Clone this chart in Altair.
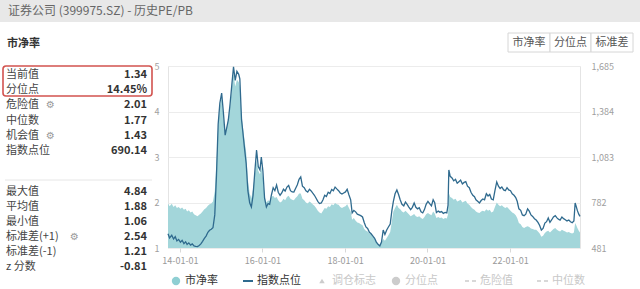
import altair as alt
import pandas as pd

title_text = "证券公司 (399975.SZ) - 历史PE/PB"
section_title = "市净率"
buttons = ["市净率", "分位点", "标准差"]

stat_labels = ["当前值", "分位点", "危险值", "中位数", "机会值", "指数点位"]
stat_values = ["1.34", "14.45%", "2.01", "1.77", "1.43", "690.14"]
stat_icons = [False, False, True, False, True, False]
stat2_labels = ["最大值", "平均值", "最小值", "标准差(+1)", "标准差(-1)", "z 分数"]
stat2_values = ["4.84", "1.88", "1.06", "2.54", "1.21", "-0.81"]
stat2_icons = [False, False, False, True, False, False]

legend_labels = ["市净率", "指数点位", "调仓标志", "分位点", "危险值", "中位数"]

left_ticks = [1, 2, 3, 4, 5]
right_ticks = [481, 782, 1083, 1384, 1685]
x_tick_years = [2014, 2016, 2018, 2020, 2022]

dates = [
    "2013-09-17", "2013-10-01", "2013-10-20", "2013-11-05", "2013-11-20", "2013-12-05", "2013-12-20",
    "2014-01-05", "2014-01-20", "2014-02-05", "2014-02-20", "2014-03-05", "2014-03-20", "2014-04-05",
    "2014-04-20", "2014-05-05", "2014-05-20", "2014-06-05", "2014-06-20", "2014-07-05", "2014-07-20",
    "2014-08-05", "2014-08-20", "2014-09-05", "2014-09-20", "2014-10-05", "2014-10-20", "2014-11-05",
    "2014-11-20", "2014-12-05", "2014-12-20", "2015-01-05", "2015-01-20", "2015-02-05", "2015-02-20",
    "2015-03-05", "2015-03-20", "2015-04-05", "2015-04-20", "2015-05-05", "2015-05-20", "2015-06-05",
    "2015-06-15", "2015-06-30", "2015-07-10", "2015-07-25", "2015-08-10", "2015-08-25", "2015-09-10",
    "2015-09-25", "2015-10-10", "2015-10-25", "2015-11-10", "2015-11-25", "2015-12-10", "2015-12-22",
    "2016-01-05", "2016-01-20", "2016-02-05", "2016-02-20", "2016-03-05", "2016-03-20", "2016-04-05",
    "2016-04-20", "2016-05-05", "2016-05-20", "2016-06-05", "2016-06-20", "2016-07-05", "2016-07-20",
    "2016-08-05", "2016-08-20", "2016-09-05", "2016-09-20", "2016-10-05", "2016-10-20", "2016-11-05",
    "2016-11-20", "2016-12-05", "2016-12-20", "2017-01-05", "2017-01-20", "2017-02-05", "2017-02-20",
    "2017-03-05", "2017-03-20", "2017-04-05", "2017-04-20", "2017-05-05", "2017-05-20", "2017-06-05",
    "2017-06-20", "2017-07-05", "2017-07-20", "2017-08-05", "2017-08-20", "2017-09-05", "2017-09-20",
    "2017-10-05", "2017-10-20", "2017-11-05", "2017-11-20", "2017-12-05", "2017-12-20", "2018-01-05",
    "2018-01-20", "2018-02-05", "2018-02-20", "2018-03-05", "2018-03-20", "2018-04-05", "2018-04-20",
    "2018-05-05", "2018-05-20", "2018-06-05", "2018-06-20", "2018-07-05", "2018-07-20", "2018-08-05",
    "2018-08-20", "2018-09-05", "2018-09-20", "2018-10-05", "2018-10-20", "2018-11-05", "2018-11-20",
    "2018-12-05", "2018-12-20", "2019-01-05", "2019-01-20", "2019-02-05", "2019-02-20", "2019-03-05",
    "2019-03-20", "2019-04-05", "2019-04-20", "2019-05-05", "2019-05-20", "2019-06-05", "2019-06-20",
    "2019-07-05", "2019-07-20", "2019-08-05", "2019-08-20", "2019-09-05", "2019-09-20", "2019-10-05",
    "2019-10-20", "2019-11-05", "2019-11-20", "2019-12-05", "2019-12-20", "2020-01-05", "2020-01-20",
    "2020-02-05", "2020-02-20", "2020-03-05", "2020-03-20", "2020-04-05", "2020-04-20", "2020-05-05",
    "2020-05-20", "2020-06-05", "2020-06-20", "2020-07-01", "2020-07-08", "2020-07-20", "2020-08-05",
    "2020-08-20", "2020-09-05", "2020-09-20", "2020-10-05", "2020-10-20", "2020-11-05", "2020-11-20",
    "2020-12-05", "2020-12-20", "2021-01-05", "2021-01-20", "2021-02-05", "2021-02-20", "2021-03-05",
    "2021-03-20", "2021-04-05", "2021-04-20", "2021-05-05", "2021-05-20", "2021-06-05", "2021-06-20",
    "2021-07-05", "2021-07-20", "2021-08-05", "2021-08-20", "2021-09-05", "2021-09-20", "2021-10-05",
    "2021-10-20", "2021-11-05", "2021-11-20", "2021-12-05", "2021-12-20", "2022-01-05", "2022-01-20",
    "2022-02-05", "2022-02-20", "2022-03-05", "2022-03-20", "2022-04-05", "2022-04-20", "2022-05-05",
    "2022-05-20", "2022-06-05", "2022-06-20", "2022-07-05", "2022-07-20", "2022-08-05", "2022-08-20",
    "2022-09-05", "2022-09-20", "2022-10-05", "2022-10-20", "2022-11-05", "2022-11-20", "2022-12-05",
    "2022-12-20", "2023-01-05", "2023-01-20", "2023-02-05", "2023-02-20", "2023-03-05", "2023-03-20",
    "2023-04-05", "2023-04-20", "2023-05-05", "2023-05-20", "2023-06-05", "2023-06-20", "2023-07-05",
    "2023-07-20", "2023-07-31", "2023-08-10", "2023-08-20", "2023-09-01", "2023-09-12",
]

pb = [
    1.98, 1.92, 1.97, 1.90, 1.94, 1.88, 1.90,
    1.86, 1.89, 1.84, 1.86, 1.80, 1.83, 1.78,
    1.80, 1.74, 1.72, 1.70, 1.73, 1.76, 1.80,
    1.85, 1.88, 1.93, 1.96, 1.98, 2.02, 2.25,
    2.90, 3.70, 4.10, 4.30, 3.90, 3.50, 3.65,
    3.80, 4.10, 4.50, 4.84, 4.55, 4.70, 4.65,
    4.55, 3.90, 3.70, 3.40, 3.10, 2.50, 2.20,
    2.10, 2.30, 2.60, 2.93, 2.70, 2.62, 2.78,
    2.55, 2.15, 2.00, 2.05, 2.02, 2.12, 2.15,
    2.10, 2.12, 2.05, 2.00, 2.02, 2.08, 2.05,
    2.12, 2.15, 2.08, 2.06, 2.05, 2.10, 2.14,
    2.20, 2.20, 2.08, 2.05, 2.00, 1.98, 2.02,
    2.00, 1.96, 1.93, 1.88, 1.82, 1.78, 1.76,
    1.82, 1.88, 1.86, 1.92, 1.90, 1.96, 1.94,
    1.99, 1.96, 1.95, 1.90, 1.88, 1.90, 1.92,
    1.96, 1.88, 1.80, 1.62, 1.66, 1.60, 1.56,
    1.55, 1.52, 1.50, 1.42, 1.38, 1.36, 1.32,
    1.30, 1.25, 1.22, 1.15, 1.10, 1.06, 1.12,
    1.20, 1.16, 1.22, 1.28, 1.35, 1.60, 1.80,
    1.88, 1.95, 1.88, 1.85, 1.80, 1.78, 1.82,
    1.78, 1.74, 1.70, 1.72, 1.75, 1.70, 1.68,
    1.70, 1.66, 1.64, 1.68, 1.74, 1.77, 1.74,
    1.72, 1.80, 1.76, 1.66, 1.68, 1.66, 1.67,
    1.64, 1.66, 1.65, 1.74, 2.21, 2.12, 2.10,
    2.06, 2.08, 2.02, 2.04, 2.06, 2.00, 2.02,
    2.04, 1.98, 1.95, 1.90, 1.86, 1.84, 1.80,
    1.78, 1.77, 1.80, 1.82, 1.80, 1.85, 1.82,
    1.84, 1.78, 1.80, 1.90, 2.00, 1.95, 1.92,
    1.94, 1.90, 1.88, 1.90, 1.86, 1.82, 1.78,
    1.76, 1.72, 1.66, 1.55, 1.52, 1.46, 1.44,
    1.46, 1.48, 1.46, 1.43, 1.42, 1.40, 1.40,
    1.36, 1.32, 1.25, 1.27, 1.33, 1.36, 1.38,
    1.34, 1.38, 1.42, 1.44, 1.40, 1.38, 1.36,
    1.40, 1.38, 1.36, 1.34, 1.35, 1.33, 1.32,
    1.34, 1.55, 1.50, 1.44, 1.38, 1.34,
]

index_pts = [
    575, 548, 565, 540, 556, 528, 538,
    520, 532, 510, 522, 505, 515, 500,
    508, 495, 492, 490, 498, 508, 525,
    545, 560, 585, 598, 605, 615, 700,
    960, 1300, 1440, 1506, 1380, 1228, 1280,
    1328, 1430, 1560, 1680, 1590, 1650, 1630,
    1600, 1330, 1260, 1150, 1040, 860, 780,
    752, 830, 980, 1129, 1020, 997, 1083,
    990, 810, 752, 775, 770, 830, 880,
    860, 898, 850, 830, 845, 870, 858,
    884, 895, 860, 852, 851, 875, 900,
    935, 951, 890, 880, 860, 851, 870,
    860, 845, 830, 810, 790, 775, 779,
    800, 830, 822, 850, 842, 868, 860,
    884, 872, 860, 845, 838, 845, 852,
    870, 832, 800, 713, 730, 720, 705,
    700, 695, 686, 650, 620, 610, 585,
    575, 560, 545, 520, 505, 495, 520,
    600, 570, 600, 620, 640, 730, 790,
    840, 865, 835, 799, 770, 760, 785,
    770, 752, 735, 750, 779, 750, 740,
    748, 720, 713, 735, 770, 790, 775,
    760, 800, 780, 715, 725, 718, 722,
    710, 716, 713, 765, 997, 955, 944,
    925, 935, 910, 920, 930, 905, 915,
    920, 890, 880, 850, 830, 820, 800,
    790, 779, 795, 805, 800, 840, 825,
    835, 805, 800, 860, 918, 890, 875,
    885, 865, 860, 880, 865, 860, 840,
    830, 815, 790, 740, 730, 700, 695,
    705, 740, 725, 700, 690, 675, 666,
    650, 630, 600, 610, 646, 655, 680,
    650, 668, 686, 695, 680, 672, 665,
    686, 675, 668, 660, 666, 655, 648,
    660, 779, 755, 728, 705, 690.14,
]

# ---------------------------------------------------------------------------
OX, OY = 168, 66          # plot origin on the page
PW, PH = 412, 182         # plot area size
FONT = "Noto Sans CJK SC"

df = pd.DataFrame({"date": pd.to_datetime(dates), "pb": pb, "idx": index_pts})

x_scale = alt.Scale(domain=[alt.DateTime(year=2013, month=9, date=17),
                            alt.DateTime(year=2023, month=9, date=12)])

base = alt.Chart(df).encode(
    x=alt.X("date:T", scale=x_scale, title=None,
            axis=alt.Axis(values=[alt.DateTime(year=y, month=1, date=1) for y in x_tick_years],
                          format="%y-%m-%d", labelColor="#9a9a9a", labelFontSize=9,
                          labelFont=FONT, tickColor="#d8d8d8", tickSize=4, domain=False,
                          grid=False, labelPadding=4))
)

area = base.mark_area(color="#a3d6da", opacity=1).encode(
    y=alt.Y("pb:Q", title=None,
            scale=alt.Scale(domain=[1, 5], zero=False, nice=False),
            axis=alt.Axis(values=left_ticks, orient="left", grid=True, gridColor="#ececec",
                          domain=False, ticks=False, labelColor="#a0a0a0", labelFontSize=9,
                          labelFont=FONT, labelPadding=9, labelOverlap=False,
                          labelFlush=False)),
    y2=alt.datum(1),
)

line = base.mark_line(color="#2f6a8e", strokeWidth=1.3).encode(
    y=alt.Y("idx:Q", title=None,
            scale=alt.Scale(domain=[481, 1685], zero=False, nice=False),
            axis=alt.Axis(values=right_ticks, orient="right", grid=False,
                          labelExpr="format(datum.value, ',')", labelOverlap=False,
                          labelFlush=False,
                          domain=False, ticks=False, labelColor="#a0a0a0", labelFontSize=9,
                          labelFont=FONT, labelPadding=11)),
)

one = pd.DataFrame({"k": [0]})

header_bg = alt.Chart(one).mark_rect(color="#e8e8e8").encode(
    x=alt.value(-OX), x2=alt.value(640 - OX), y=alt.value(-OY), y2=alt.value(22 - OY))
header_txt = alt.Chart(pd.DataFrame({"t": [title_text]})).mark_text(
    align="left", baseline="middle", font=FONT, fontSize=12, color="#666666").encode(
    x=alt.value(8 - OX), y=alt.value(11 - OY), text="t:N")
section_txt = alt.Chart(pd.DataFrame({"t": [section_title]})).mark_text(
    align="left", baseline="middle", font=FONT, fontSize=11, fontWeight="bold",
    color="#333333").encode(x=alt.value(7 - OX), y=alt.value(44 - OY), text="t:N")

# buttons
btn_w = [42, 41, 42]
bx = [508]
for w in btn_w:
    bx.append(bx[-1] + w)
btn_df = pd.DataFrame({
    "t": buttons,
    "x0": [v - OX for v in bx[:-1]],
    "x1": [v - OX for v in bx[1:]],
})
btn_df["xc"] = (btn_df["x0"] + btn_df["x1"]) / 2
btn_rect = alt.Chart(btn_df).mark_rect(fill="white", stroke="#d6d6d6", strokeWidth=1).encode(
    x=alt.X("x0:Q", scale=None, axis=None), x2="x1:Q",
    y=alt.value(33 - OY), y2=alt.value(52 - OY))
btn_txt = alt.Chart(btn_df).mark_text(font=FONT, fontSize=11, color="#555555",
                                      baseline="middle").encode(
    x=alt.X("xc:Q", scale=None, axis=None), y=alt.value(43 - OY), text="t:N")


# stats panel
def text_w(s):
    return sum(11 if ord(c) > 255 else 6 for c in s)


rows = []
for i, (l, v, ic) in enumerate(zip(stat_labels, stat_values, stat_icons)):
    rows.append({"l": l, "v": v, "ic": "⚙" if ic else "", "py": 75 + 15.2 * i - OY,
                 "ix": 7 + text_w(l) + 6 - OX})
for i, (l, v, ic) in enumerate(zip(stat2_labels, stat2_values, stat2_icons)):
    rows.append({"l": l, "v": v, "ic": "⚙" if ic else "", "py": 191.5 + 15.1 * i - OY,
                 "ix": 7 + text_w(l) + 6 - OX})
stats_df = pd.DataFrame(rows)

stat_lbl = alt.Chart(stats_df).mark_text(align="left", baseline="middle", font=FONT,
                                         fontSize=11, color="#444444").encode(
    x=alt.value(6 - OX), y=alt.Y("py:Q", scale=None, axis=None), text="l:N")
stat_val = alt.Chart(stats_df).mark_text(align="right", baseline="middle", font=FONT,
                                         fontSize=11, fontWeight="bold",
                                         color="#333333").encode(
    x=alt.value(147 - OX), y=alt.Y("py:Q", scale=None, axis=None), text="v:N")
stat_icon = alt.Chart(stats_df).mark_text(align="left", baseline="middle", font="DejaVu Sans",
                                          fontSize=10, color="#9a9a9a").encode(
    x=alt.X("ix:Q", scale=None, axis=None), y=alt.Y("py:Q", scale=None, axis=None),
    text="ic:N")
sep = alt.Chart(one).mark_rule(color="#e6e6e6", strokeWidth=1).encode(
    x=alt.value(5 - OX), x2=alt.value(152 - OX), y=alt.value(180 - OY))
red_box = alt.Chart(one).mark_rect(filled=False, stroke="#d2534f", strokeWidth=1.6,
                                   cornerRadius=3).encode(
    x=alt.value(3 - OX), x2=alt.value(152 - OX), y=alt.value(66 - OY), y2=alt.value(96 - OY))

# legend
LY = 281 - OY
leg_x = [185, 257, 332, 405, 480, 552]
leg_col = ["#333333", "#333333", "#c8c8c8", "#c8c8c8", "#c8c8c8", "#c8c8c8"]
leg_df = pd.DataFrame({"t": legend_labels, "x": [v - OX for v in leg_x], "c": leg_col})
leg_txt = alt.Chart(leg_df).mark_text(align="left", baseline="middle", font=FONT,
                                      fontSize=11).encode(
    x=alt.X("x:Q", scale=None, axis=None), y=alt.value(LY), text="t:N",
    color=alt.Color("c:N", scale=None))
leg_dot = alt.Chart(one).mark_point(filled=True, shape="circle", size=70, color="#8fcfd3",
                                    opacity=1).encode(x=alt.value(176 - OX), y=alt.value(LY))
leg_line = alt.Chart(one).mark_rule(color="#2f6a8e", strokeWidth=2).encode(
    x=alt.value(243 - OX), x2=alt.value(253 - OX), y=alt.value(LY))
leg_tri = alt.Chart(one).mark_point(filled=True, shape="triangle-up", size=30,
                                    color="#cccccc", opacity=1).encode(
    x=alt.value(322 - OX), y=alt.value(LY))
leg_dot2 = alt.Chart(one).mark_point(filled=True, shape="circle", size=70, color="#cccccc",
                                     opacity=1).encode(x=alt.value(396 - OX), y=alt.value(LY))
leg_d1 = alt.Chart(one).mark_rule(color="#cccccc", strokeWidth=1.5, strokeDash=[4, 3]).encode(
    x=alt.value(465 - OX), x2=alt.value(476 - OX), y=alt.value(LY))
leg_d2 = alt.Chart(one).mark_rule(color="#cccccc", strokeWidth=1.5, strokeDash=[4, 3]).encode(
    x=alt.value(537 - OX), x2=alt.value(548 - OX), y=alt.value(LY))

chart = alt.layer(
    area, line,
    header_bg, header_txt, section_txt, btn_rect, btn_txt,
    stat_lbl, stat_val, stat_icon, sep, red_box,
    leg_dot, leg_line, leg_tri, leg_dot2, leg_d1, leg_d2, leg_txt,
).resolve_scale(y="independent").properties(
    width=PW, height=PH,
    autosize=alt.AutoSizeParams(type="none"),
    padding={"left": OX, "top": OY, "right": 640 - OX - PW, "bottom": 289 - OY - PH},
    background="white",
).configure_view(stroke="#e4e4e4", strokeWidth=1)

chart.save("out.html", embed_options={"renderer": "svg", "actions": False})
